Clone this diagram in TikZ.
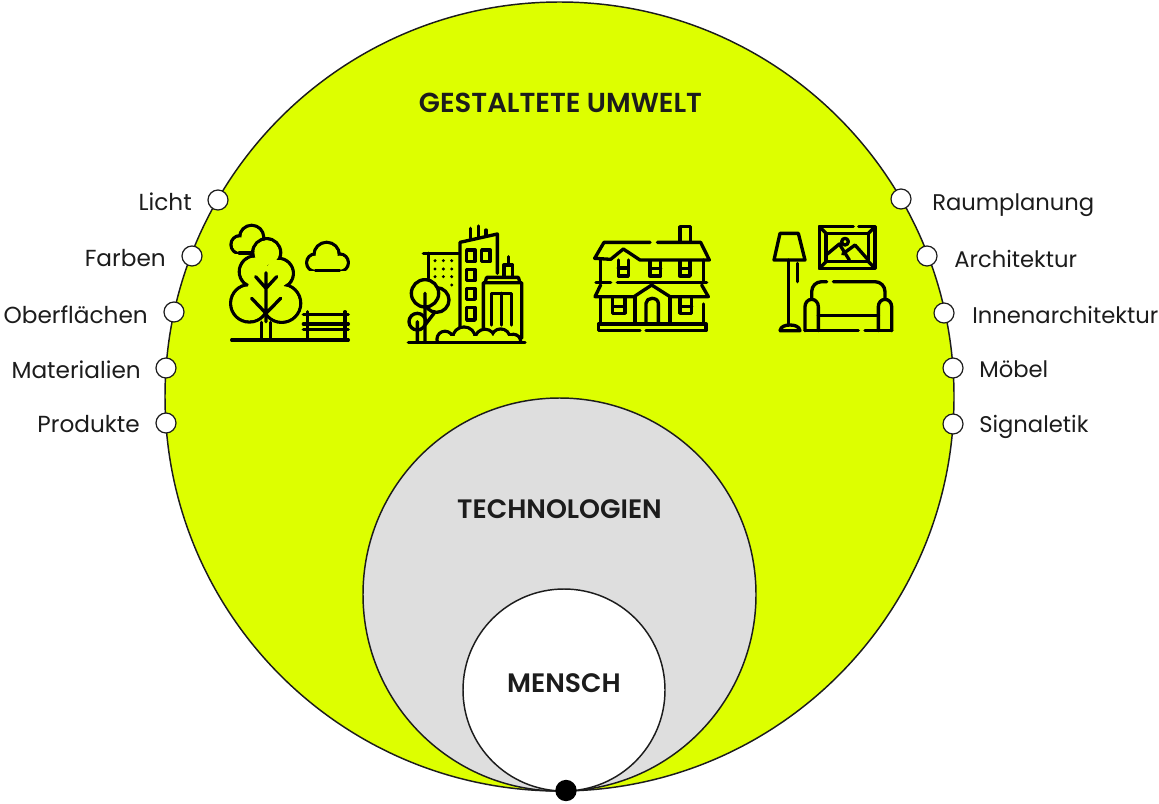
\documentclass[tikz,border=0pt]{standalone}
\usepackage{fontspec}
\setmainfont{Poppins}
\newfontfamily\headfont{Poppins SemiBold}
\definecolor{lime}{HTML}{DDFF00}
\definecolor{techgrey}{HTML}{DEDEDE}
\definecolor{ink}{HTML}{1C1C1C}
\tikzset{
  big/.style={circle,draw=ink,line width=1.1pt,inner sep=0pt,outer sep=0pt},
  dot/.style={circle,draw=ink,fill=white,line width=0.9pt,minimum size=15pt,inner sep=0pt},
  lab/.style={font=\fontsize{17}{20}\selectfont,text=ink,inner sep=0pt},
  labl/.style={font=\fontsize{17.4}{20}\selectfont,text=ink,inner sep=0pt},
  head/.style={font=\fontsize{20}{24}\headfont,text=ink,inner sep=0pt,anchor=base},
  ico/.style={draw=black,line width=2.5pt,line cap=round,line join=round},
  z1/.style={shift={(210,210)},x=0.25pt,y=-0.25pt},
  z2/.style={shift={(570,210)},x=0.25pt,y=-0.25pt}
}
\newcommand{\blob}[1]{%
  \foreach \cx/\cy/\cr in {#1}{\draw[ico] (\cx,\cy) circle (\cr);}%
  \foreach \cx/\cy/\cr in {#1}{\fill[lime] (\cx,\cy) circle ({\cr-5});}%
}
\begin{document}
\begin{tikzpicture}[x=0.75pt,y=-0.75pt]
\useasboundingbox (0,0) rectangle (1159,803);
\fill[white] (0,0) rectangle (1159,803);
\node[big,fill=lime,minimum size=591.75pt] (world) at (559.5,396.5) {};
\node[big,fill=techgrey,minimum size=294.75pt] (tech) at (559.5,594.5) {};
\node[big,fill=white,minimum size=151.5pt] (human) at (564,690) {};
\node[circle,fill=black,minimum size=16pt,inner sep=0pt] (origin) at (566,790.5) {};
\node[head,font=\fontsize{20.6}{24}\headfont] (t1) at (560.5,112) {GESTALTETE UMWELT};
\node[head] (t2) at (559.5,518) {TECHNOLOGIEN};
\node[head] (t3) at (564,692) {MENSCH};
% left dots
\node[dot] (d1) at (218,200) {};
\node[dot] (d2) at (192,256) {};
\node[dot] (d3) at (174,312) {};
\node[dot] (d4) at (166,368) {};
\node[dot] (d5) at (166,423) {};
\node[labl,anchor=base east] (l1) at (192,210) {Licht};
\node[labl,anchor=base east] (l2) at (166,266) {Farben};
\node[labl,anchor=base east] (l3) at (148,323) {Oberflächen};
\node[labl,anchor=base east] (l4) at (141,378) {Materialien};
\node[labl,anchor=base east] (l5) at (140,432) {Produkte};
% right dots
\node[dot] (r1) at (901,199) {};
\node[dot] (r2) at (927,256) {};
\node[dot] (r3) at (944,313) {};
\node[dot] (r4) at (953,368) {};
\node[dot] (r5) at (953,424) {};
\node[lab,anchor=base west] (m1) at (932,210) {Raumplanung};
\node[lab,anchor=base west] (m2) at (954,267) {Architektur};
\node[lab,anchor=base west] (m3) at (972,323) {Innenarchitektur};
\node[lab,anchor=base west] (m4) at (979,377) {Möbel};
\node[lab,anchor=base west] (m5) at (979,432) {Signaletik};
% park
\begin{scope}[z1]
\begin{scope}
\clip (40,30) rectangle (200,129);
\blob{90/104/27,125/82/36}
\fill[lime] (90,95) rectangle (150,124);
\end{scope}
\draw[ico] (88,129)--(135,129);
\blob{170/128/42,135/185/47,205/190/45,118/280/56,215/280/57,168/240/60}
\draw[ico] (168,188)--(168,335) (137,200)--(168,235)--(200,200) (125,265)--(168,310)--(212,265);
\draw[ico] (155,337)--(155,390) (182,337)--(182,390);
\begin{scope}
\clip (270,80) rectangle (430,182);
\blob{350/135/38,316/158/26,389/158/26}
\fill[lime] (316,145) rectangle (389,177);
\end{scope}
\draw[ico] (316,182)--(389,182);
\draw[ico] (65,390)--(415,390) (280,313)--(415,313) (280,342)--(415,342) (280,358)--(415,358) (292,305)--(292,390) (405,305)--(405,390);
% city
\draw[ico] (595,397)--(945,397);
\draw[ico] (750,355)--(750,97)--(862,72)--(862,190);
\draw[ico] (782,55)--(782,85) (805,48)--(805,80) (828,60)--(828,75);
\draw[ico] (770,120) rectangle (795,155) (815,120) rectangle (840,155) (770,178) rectangle (795,212) (770,235) rectangle (795,268) (770,292) rectangle (795,330);
\draw[ico] (640,130)--(745,130) (655,130)--(655,205);
\foreach \xx in {675,700,725}{\foreach \yy in {152,177,200}{\fill (\xx,\yy) circle (5);}}
\fill (725,225) circle (5);
\draw[ico,fill=lime] (680,270) circle (37);
\draw[ico,fill=lime] (645,250) circle (41);
\draw[ico,fill=lime] (622,335) circle (25);
\draw[ico] (645,250)--(645,397) (622,335)--(622,397) (645,345)--(672,310);
\draw[ico] (820,355)--(820,218)--(935,218)--(935,385) (830,202)--(925,202) (830,202)--(825,218) (925,202)--(930,218);
\draw[ico] (845,345)--(845,250)--(905,250)--(905,345) (875,250)--(875,345);
\draw[ico] (895,140)--(895,165) (882,200)--(882,165)--(908,165)--(908,200);
\begin{scope}
\clip (660,330) rectangle (950,392);
\blob{705/388/24,762/385/34,825/388/30,872/385/28,910/395/22}
\fill[lime] (705,378) rectangle (905,392);
\end{scope}
\end{scope}
% house and room
\begin{scope}[z2]
\draw[ico] (330,92)--(330,50)--(362,50)--(362,92);
\draw[ico] (240,97)--(102,97)--(74,145)--(122,148)--(160,117)--(210,150)--(418,150)--(392,97)--(262,97);
\draw[ico] (92,150)--(92,218) (400,150)--(400,216);
\draw[ico] (78,218)--(122,218) (142,218)--(410,218);
\draw[ico] (145,150)--(145,198)--(175,198)--(175,150) (145,174)--(175,174);
\draw[ico] (240,155)--(240,198)--(272,198)--(272,155) (240,176)--(272,176);
\draw[ico] (330,155)--(330,198)--(360,198)--(360,155) (330,176)--(360,176);
\draw[ico] (92,225)--(75,260)--(192,260)--(245,225)--(300,260)--(415,260)--(395,225);
\draw[ico] (92,260)--(92,340) (400,282)--(400,340) (195,260)--(195,340) (300,260)--(300,340);
\draw[ico] (228,340)--(228,280) to[out=90,in=180] (246,265) to[out=0,in=90] (265,280)--(265,340);
\draw[ico] (128,265)--(128,310)--(165,310)--(165,265) (128,290)--(165,290);
\draw[ico] (330,265)--(330,310)--(365,310)--(365,265) (330,290)--(365,290);
\draw[ico] (210,362)--(85,362)--(85,342)--(408,342)--(408,362)--(228,362);
\draw[ico] (630,70)--(685,70)--(705,150)--(612,150)--cycle;
\draw[ico] (655,150)--(655,345) (682,160)--(682,215);
\draw[ico] (630,362)--(690,362) to[out=100,in=0] (660,345) to[out=180,in=80] (630,362);
\draw[ico] (866,50)--(915,50)--(915,175)--(748,175)--(748,50)--(850,50);
\draw[ico] (768,70)--(895,70)--(895,155)--(768,155)--cycle;
\draw[ico] (748,50)--(768,70) (915,50)--(895,70) (915,175)--(895,155) (748,175)--(768,155);
\draw[ico] (772,132)--(808,102)--(838,150) (818,132)--(855,105)--(893,148);
\draw[ico] (825,95) circle (10);
\draw[ico] (725,265)--(725,245) to[out=90,in=180] (755,215)--(770,215) (790,215)--(915,215) to[out=0,in=90] (945,245)--(945,265);
\draw[ico] (705,362)--(705,290) to[out=90,in=180] (725,268) to[out=0,in=90] (745,290)--(745,362);
\draw[ico] (925,362)--(925,290) to[out=90,in=180] (945,268) to[out=0,in=90] (965,290)--(965,362);
\draw[ico] (745,316)--(925,316);
\draw[ico] (705,362)--(865,362) (885,362)--(965,362);
\end{scope}
\end{tikzpicture}
\end{document}
